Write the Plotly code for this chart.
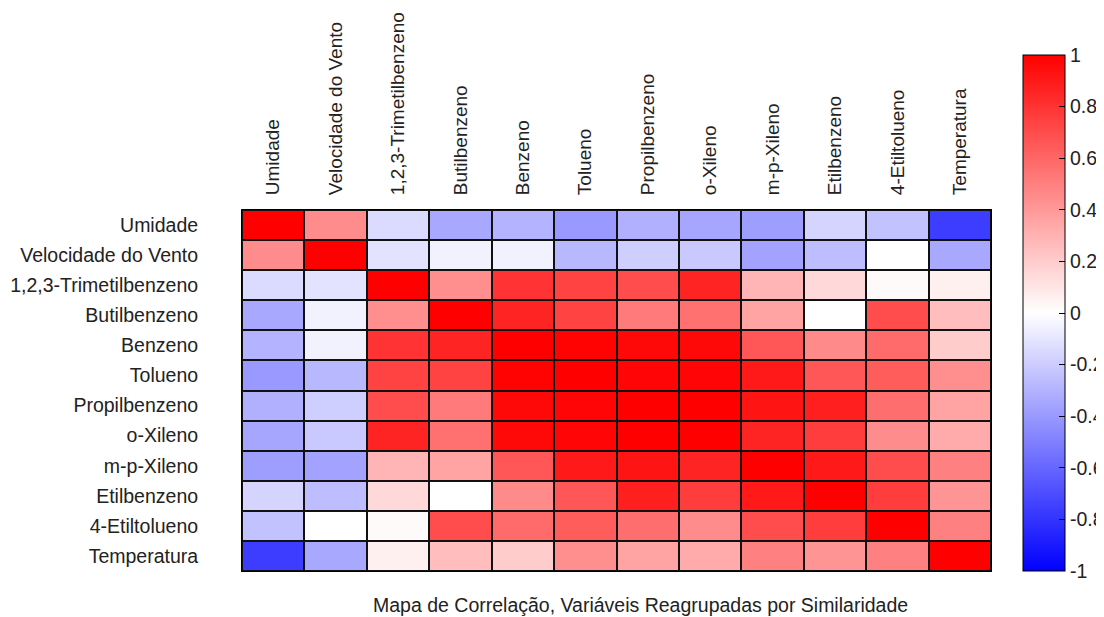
import plotly.graph_objects as go

labels = ["Umidade", "Velocidade do Vento", "1,2,3-Trimetilbenzeno", "Butilbenzeno",
          "Benzeno", "Tolueno", "Propilbenzeno", "o-Xileno", "m-p-Xileno",
          "Etilbenzeno", "4-Etiltolueno", "Temperatura"]

r_umidade      = [1.00, 0.45, -0.14, -0.34, -0.30, -0.40, -0.31, -0.35, -0.38, -0.17, -0.24, -0.76]
r_velocidade   = [0.45, 1.00, -0.11, -0.05, -0.05, -0.28, -0.19, -0.21, -0.36, -0.26, 0.00, -0.34]
r_trimetil     = [-0.14, -0.11, 1.00, 0.44, 0.80, 0.74, 0.70, 0.86, 0.29, 0.15, 0.02, 0.06]
r_butil        = [-0.34, -0.05, 0.44, 1.00, 0.86, 0.74, 0.52, 0.56, 0.36, 0.00, 0.70, 0.26]
r_benzeno      = [-0.30, -0.05, 0.80, 0.86, 1.00, 0.99, 0.97, 0.97, 0.66, 0.46, 0.58, 0.20]
r_tolueno      = [-0.40, -0.28, 0.74, 0.74, 0.99, 1.00, 0.98, 0.98, 0.90, 0.66, 0.64, 0.44]
r_propil       = [-0.31, -0.19, 0.70, 0.52, 0.97, 0.98, 1.00, 1.00, 0.92, 0.88, 0.57, 0.36]
r_oxileno      = [-0.35, -0.21, 0.86, 0.56, 0.97, 0.98, 1.00, 1.00, 0.86, 0.76, 0.45, 0.33]
r_mpxileno     = [-0.38, -0.36, 0.29, 0.36, 0.66, 0.90, 0.92, 0.86, 1.00, 0.90, 0.70, 0.50]
r_etilbenzeno  = [-0.17, -0.26, 0.15, 0.00, 0.46, 0.66, 0.88, 0.76, 0.90, 1.00, 0.76, 0.42]
r_etiltolueno  = [-0.24, 0.00, 0.02, 0.70, 0.58, 0.64, 0.57, 0.45, 0.70, 0.76, 1.00, 0.50]
r_temperatura  = [-0.76, -0.34, 0.06, 0.26, 0.20, 0.44, 0.36, 0.33, 0.50, 0.42, 0.50, 1.00]

z = [r_umidade, r_velocidade, r_trimetil, r_butil, r_benzeno, r_tolueno, r_propil,
     r_oxileno, r_mpxileno, r_etilbenzeno, r_etiltolueno, r_temperatura]

cb_ticks = [1, 0.8, 0.6, 0.4, 0.2, 0, -0.2, -0.4, -0.6, -0.8, -1]
cb_text = ["1", "0.8", "0.6", "0.4", "0.2", "0", "-0.2", "-0.4", "-0.6", "-0.8", "-1"]

FONT = "Liberation Sans, Arial"

fig = go.Figure(go.Heatmap(
    z=z, x=labels, y=labels,
    zmin=-1, zmax=1,
    colorscale=[[0, "rgb(0,0,255)"], [0.5, "rgb(255,255,255)"], [1, "rgb(255,0,0)"]],
    xgap=2, ygap=2,
    colorbar=dict(
        x=1.0427, xanchor="left", xref="paper", xpad=0, ypad=0,
        y=0, yanchor="bottom", lenmode="pixels", len=516,
        thicknessmode="pixels", thickness=42,
        outlinecolor="black", outlinewidth=1,
        tickvals=cb_ticks, ticktext=cb_text,
        ticks="inside", ticklen=6, tickcolor="black",
        tickfont=dict(family=FONT, size=19.5, color="#222222"),
    ),
))

# page body has an 8px margin: figure is sized/offset to compensate
fig.update_layout(
    width=1096, height=609,
    margin=dict(l=234, r=113, t=202, b=46, autoexpand=False),
    paper_bgcolor="white",
    plot_bgcolor="#111111",
    font=dict(family=FONT, size=19.5, color="#222222"),
    xaxis=dict(side="top", tickangle=-90, showgrid=False, zeroline=False, automargin=False,
               ticks="", showline=True, linecolor="black", linewidth=1, mirror=True,
               ticklabelstandoff=10, tickfont=dict(size=19)),
    yaxis=dict(autorange="reversed", showgrid=False, zeroline=False, ticks="", automargin=False,
               showline=True, linecolor="black", linewidth=1, mirror=True,
               ticklabelstandoff=39, tickfont=dict(size=19.5)),
    annotations=[dict(text="Mapa de Correlação, Variáveis Reagrupadas por Similaridade",
                      xref="paper", yref="paper", x=0.532, y=0, yshift=-34,
                      xanchor="center", yanchor="middle", showarrow=False,
                      font=dict(size=19.5, color="#222222"))],
)

fig.write_html("out.html")
